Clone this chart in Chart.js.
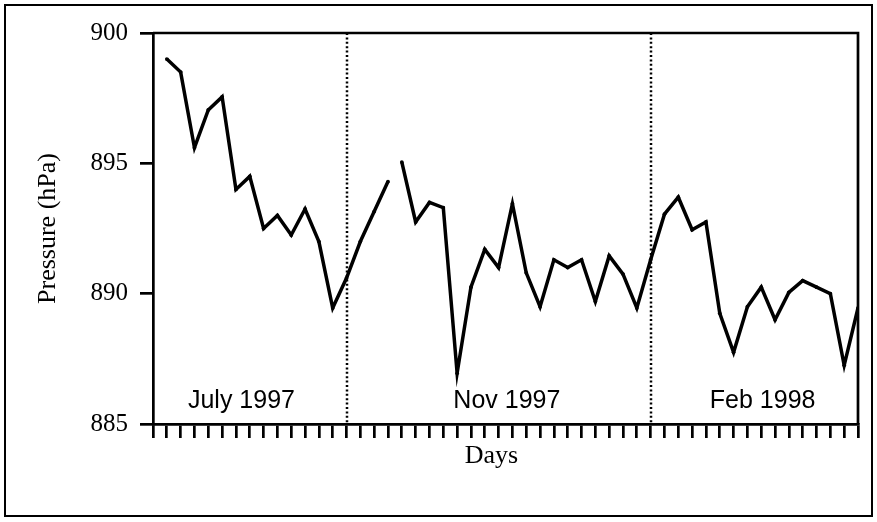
<!DOCTYPE html>
<html>
<head>
<meta charset="utf-8">
<script src="https://cdn.jsdelivr.net/npm/chart.js@4/dist/chart.umd.min.js"></script>
<style>
  html, body { margin: 0; padding: 0; background: #fff; }
  #wrap { width: 877px; height: 522px; position: relative; }
</style>
</head>
<body>
<div id="wrap"><canvas id="pressureChart"></canvas></div>
<script>
// day index along the axis (0..51), three observing periods
const firstRunDays = [1, 2, 3, 4, 5, 6, 7, 8, 9, 10, 11, 12, 13, 14, 15, 16, 17];
const firstRunPressure = [899.0, 898.5, 895.6, 897.05, 897.55, 894.0, 894.5, 892.5, 893.0, 892.25,
  893.25, 892.0, 889.45, 890.6, 892.0, 893.15, 894.3];

const secondRunDays = [18, 19, 20, 21, 22, 23, 24, 25, 26, 27, 28, 29, 30, 31, 32, 33, 34, 35,
  36, 37, 38, 39, 40, 41, 42, 43, 44, 45, 46, 47, 48, 49, 50, 51];
const secondRunPressure = [895.05, 892.75, 893.5, 893.3, 886.95, 890.25, 891.7, 891.0, 893.45, 890.8,
  889.5, 891.3, 891.0, 891.3, 889.7, 891.45, 890.75, 889.45,
  891.3, 893.05, 893.7, 892.45, 892.75, 889.25, 887.75, 889.5, 890.25, 889.0,
  890.05, 890.5, 890.25, 890.0, 887.25, 889.45];

const yTicks = [885, 890, 895, 900];
const periodBreaks = [14, 36];
const periodLabels = ['July 1997', 'Nov 1997', 'Feb 1998'];
const periodCentres = [6.4, 25.6, 44.1];

const toPoints = (xs, ys) => xs.map((x, i) => ({ x: x, y: ys[i] }));

const serif = "'Liberation Serif', 'Times New Roman', serif";
const sans = "'Liberation Sans', Arial, sans-serif";

// frame, dotted period dividers and in-plot period names
const decorations = {
  id: 'decorations',
  beforeDatasetsDraw(chart) {
    const { ctx, chartArea: a, scales: { x } } = chart;
    ctx.save();
    ctx.strokeStyle = '#000';
    ctx.lineWidth = 2.7;
    ctx.beginPath();
    ctx.moveTo(a.left, a.top);
    ctx.lineTo(a.right, a.top);
    ctx.lineTo(a.right, a.bottom);
    ctx.stroke();
    ctx.lineWidth = 2;
    ctx.strokeRect(5, 5, chart.width - 10, chart.height - 11);

    ctx.lineWidth = 2.5;
    ctx.setLineDash([2, 2.4]);
    periodBreaks.forEach(d => {
      const px = Math.round(x.getPixelForValue(d));
      ctx.beginPath();
      ctx.moveTo(px, a.top);
      ctx.lineTo(px, a.bottom);
      ctx.stroke();
    });
    ctx.restore();
  },
  afterDatasetsDraw(chart) {
    const { ctx, chartArea: a, scales: { x } } = chart;
    ctx.save();
    ctx.fillStyle = '#000';
    ctx.font = '25px ' + sans;
    ctx.textAlign = 'center';
    ctx.textBaseline = 'alphabetic';
    periodLabels.forEach((t, i) => {
      ctx.fillText(t, x.getPixelForValue(periodCentres[i]), a.bottom - 16);
    });
    ctx.font = '26px ' + serif;
    ctx.textBaseline = 'middle';
    ctx.fillText('Days', (a.left + a.right) / 2 - 14, 456);
    ctx.restore();
  }
};

const lineStyle = {
  borderColor: '#000',
  backgroundColor: '#000',
  borderWidth: 3.5,
  pointRadius: 1.9,
  pointBorderWidth: 0,
  tension: 0,
  fill: false
};

new Chart(document.getElementById('pressureChart'), {
  type: 'line',
  data: {
    datasets: [
      Object.assign({ label: 'Pressure', data: toPoints(firstRunDays, firstRunPressure) }, lineStyle),
      Object.assign({ label: 'Pressure ', data: toPoints(secondRunDays, secondRunPressure) }, lineStyle)
    ]
  },
  options: {
    responsive: true,
    maintainAspectRatio: false,
    animation: false,
    layout: { padding: { top: 33, right: 19, left: 0, bottom: 0 } },
    plugins: { legend: { display: false }, tooltip: { enabled: false } },
    scales: {
      x: {
        type: 'linear',
        min: 0,
        max: 51,
        ticks: { stepSize: 1, display: false },
        grid: { drawOnChartArea: false, color: '#000', lineWidth: 2.7, tickLength: 14 },
        border: { display: true, color: '#000', width: 2.7 },
        afterFit: s => { s.height = 98; }
      },
      y: {
        min: 885,
        max: 900,
        afterBuildTicks: s => { s.ticks = yTicks.map(v => ({ value: v })); },
        ticks: { color: '#000', padding: 12, font: { family: serif, size: 25 } },
        grid: { drawOnChartArea: false, color: '#000', lineWidth: 2.7, tickLength: 13 },
        border: { display: true, color: '#000', width: 2.7 },
        title: {
          display: true,
          text: 'Pressure (hPa)',
          color: '#000',
          font: { family: serif, size: 26 },
          padding: { top: 33 }
        },
        afterFit: s => { s.width = 153; }
      }
    }
  },
  plugins: [decorations]
});
</script>
</body>
</html>
